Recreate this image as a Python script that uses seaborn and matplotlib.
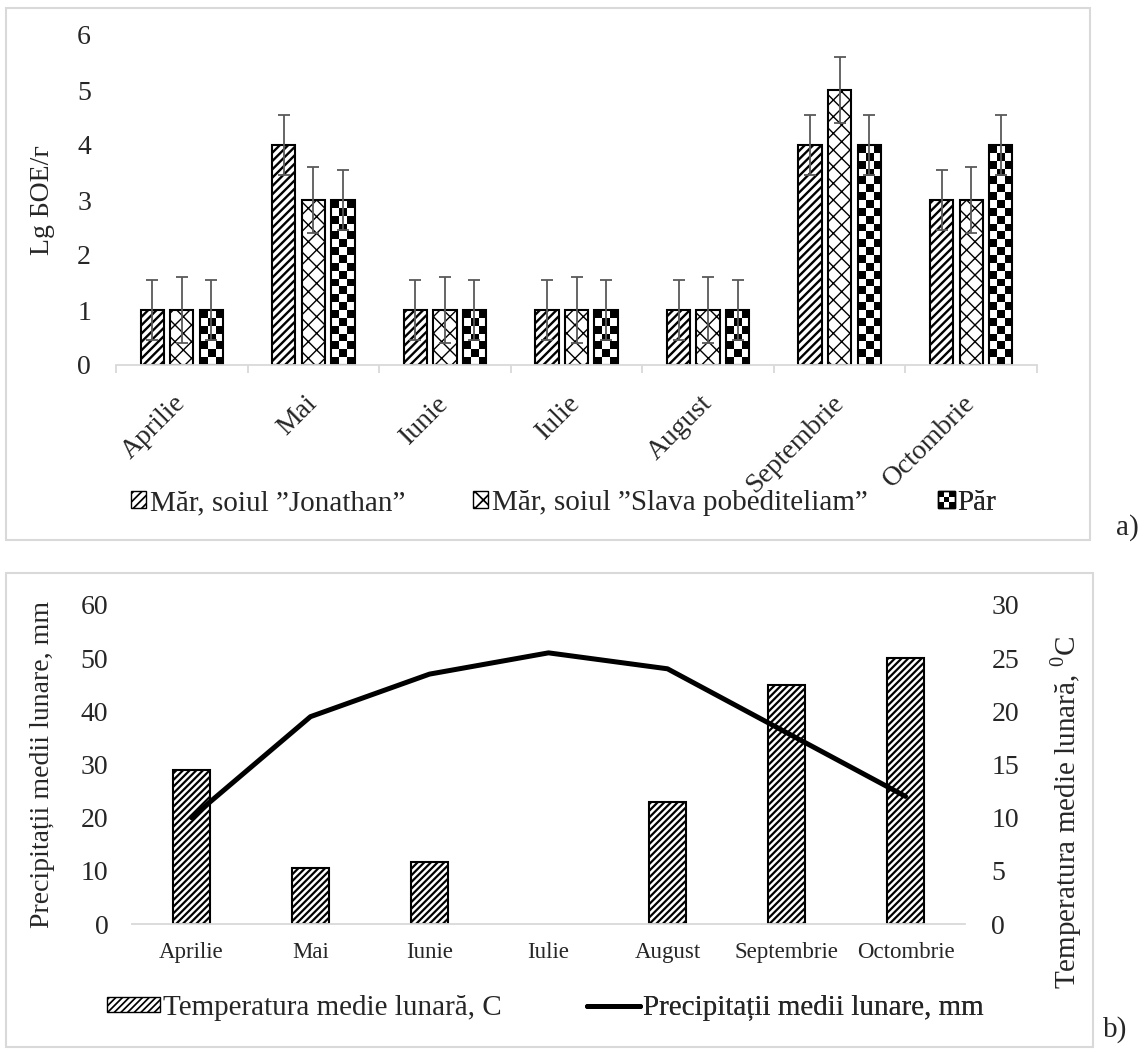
import numpy as np
import pandas as pd
import matplotlib
matplotlib.use("Agg")
import matplotlib.pyplot as plt
import seaborn as sns
from matplotlib.patches import Rectangle, Patch
from matplotlib.lines import Line2D
from matplotlib.legend_handler import HandlerBase

# ---------------- data ----------------
months = ["Aprilie", "Mai", "Iunie", "Iulie", "August", "Septembrie", "Octombrie"]
series_names = ["Măr, soiul ”Jonathan”", "Măr, soiul ”Slava pobediteliam”", "Păr"]

jonathan = [1, 4, 1, 1, 1, 4, 3]
slava = [1, 3, 1, 1, 1, 5, 3]
par = [1, 3, 1, 1, 1, 4, 4]
err_jonathan = [0.55, 0.55, 0.55, 0.55, 0.55, 0.55, 0.55]
err_slava = [0.6, 0.6, 0.6, 0.6, 0.6, 0.6, 0.6]
err_par = [0.55, 0.55, 0.55, 0.55, 0.55, 0.55, 0.55]

temperature = [14.5, 5.3, 5.8, 0.0, 11.5, 22.5, 25.0]
precipitation = [20, 39, 47, 51, 48, 36, 24]

top_ylabel = "Lg БОЕ/г"
left_ylabel = "Precipitații medii lunare, mm"
right_ylabel = "Temperatura medie lunară, $^{\\mathregular{0}}$C"
legend_bar = "Temperatura medie lunară, C"
legend_line = "Precipitații medii lunare, mm"

# ---------------- style ----------------
sns.set_theme(style="white")
plt.rcParams["font.family"] = ["Liberation Serif", "DejaVu Serif"]
plt.rcParams["mathtext.fontset"] = "custom"
plt.rcParams["mathtext.rm"] = "Liberation Serif"
plt.rcParams["hatch.linewidth"] = 1.25
plt.rcParams["hatch.color"] = "black"

FS = 20      # tick labels / axis titles
LFS = 21     # legend text
GRAY = "#d9d9d9"


def set_hatch_lw(patch, lw):
    if hasattr(patch, "set_hatch_linewidth"):
        patch.set_hatch_linewidth(lw)


fig = plt.figure(figsize=(11.41, 10.5), dpi=100)
W, H = 1141.0, 1050.0

# panel frames
fig.add_artist(Rectangle((6 / W, 1 - 540 / H), (1090 - 6) / W, (540 - 8) / H,
                         transform=fig.transFigure, fill=False, edgecolor=GRAY, lw=1.5))
fig.add_artist(Rectangle((6 / W, 1 - 1047 / H), (1093 - 6) / W, (1047 - 573) / H,
                         transform=fig.transFigure, fill=False, edgecolor=GRAY, lw=1.5))
fig.text(1116 / W, 1 - 528 / H, "a)", fontsize=LFS, va="center", ha="left")
fig.text(1103 / W, 1 - 1030 / H, "b)", fontsize=LFS, va="center", ha="left")

# ---------------- panel a ----------------
ax1 = fig.add_axes([116 / W, 1 - 365 / H, (1037 - 116) / W, (365 - 35) / H])
df_top = pd.DataFrame({
    "Luna": months * 3,
    "Valoare": jonathan + slava + par,
    "Soi": [series_names[0]] * 7 + [series_names[1]] * 7 + [series_names[2]] * 7,
})
sns.barplot(data=df_top, x="Luna", y="Valoare", hue="Soi", order=months,
            hue_order=series_names, palette=["white"] * 3, saturation=1,
            width=0.674, gap=0.21, edgecolor="black", linewidth=1.5,
            errorbar=None, legend=False, ax=ax1)
ax1.set_xlim(-0.5, 6.5)
ax1.set_ylim(0, 6)
ax1.set_yticks(range(0, 7))

hatches = ["////", "xx"]
hatch_lws = [1.7, 1.0]
for cont, h, hl in zip(ax1.containers[:2], hatches, hatch_lws):
    for b in cont:
        b.set_hatch(h)
        set_hatch_lw(b, hl)

# checkerboard pattern for third series
for b in ax1.containers[2]:
    x0, y0, w, h = b.get_x(), b.get_y(), b.get_width(), b.get_height()
    p0 = ax1.transData.transform((x0, y0))
    p1 = ax1.transData.transform((x0 + w, y0 + h))
    nx = 3
    cell = (p1[0] - p0[0]) / nx
    ny = max(1, int(round((p1[1] - p0[1]) / cell)))
    grid = ((np.add.outer(np.arange(ny), np.arange(nx)) % 2) == 0).astype(float)
    im = ax1.imshow(grid, cmap="gray_r", vmin=0, vmax=1, extent=(x0, x0 + w, y0, y0 + h),
                    origin="upper", interpolation="nearest", aspect="auto", zorder=1.5)
    im.set_clip_path(b)
    b.set_facecolor("none")
    b.set_zorder(2)
ax1.set_xlim(-0.5, 6.5)
ax1.set_ylim(0, 6)

for cont, errs in zip(ax1.containers, [err_jonathan, err_slava, err_par]):
    xs = [b.get_x() + b.get_width() / 2 for b in cont]
    ys = [b.get_y() + b.get_height() for b in cont]
    ax1.errorbar(xs, ys, yerr=errs, fmt="none", ecolor="#595959", elinewidth=1.3,
                 capsize=4.3, capthick=1.3, zorder=6)

for s in ["top", "right", "left"]:
    ax1.spines[s].set_visible(False)
ax1.spines["bottom"].set_color(GRAY)
ax1.spines["bottom"].set_linewidth(1.3)
ax1.set_xticks(range(7))
ax1.set_xticklabels(months, rotation=45, ha="right", va="center",
                    rotation_mode="anchor", fontsize=FS)
ax1.set_xticks(np.arange(-0.5, 7, 1), minor=True)
ax1.tick_params(axis="x", which="major", length=0, pad=25)
ax1.tick_params(axis="x", which="minor", length=6, width=1.3, color=GRAY, bottom=True)
ax1.tick_params(axis="y", length=0, pad=18, labelsize=FS)
ax1.set_xlabel("")
ax1.set_ylabel(top_ylabel, fontsize=FS)
ax1.yaxis.set_label_coords(-0.066, 0.5)


class HandlerChecker(HandlerBase):
    def create_artists(self, legend, orig_handle, xdescent, ydescent, width, height,
                       fontsize, trans):
        s = height
        x0 = -xdescent + (width - s) / 2
        y0 = -ydescent
        n = 3
        c = s / n
        arts = []
        for i in range(n):
            for j in range(n):
                if (i + j) % 2 == 0:
                    arts.append(Rectangle((x0 + j * c, y0 + i * c), c, c, facecolor="black",
                                          edgecolor="none", transform=trans))
        arts.append(Rectangle((x0, y0), s, s, facecolor="none", edgecolor="black",
                              lw=1.0, transform=trans))
        return arts


top_handles = [Patch(facecolor="white", edgecolor="black", hatch="////", lw=1.0),
               Patch(facecolor="white", edgecolor="black", hatch="xx", lw=1.0),
               Patch(facecolor="white", edgecolor="black")]
set_hatch_lw(top_handles[0], 1.7)
set_hatch_lw(top_handles[1], 1.0)
top_handle_x = [131, 473, 939]
for i, (hd, name, hx) in enumerate(zip(top_handles, series_names, top_handle_x)):
    hm = {hd: HandlerChecker()} if i == 2 else None
    leg = ax1.legend([hd], [name], handler_map=hm, loc="center left",
                     bbox_to_anchor=(hx / W, 1 - 503 / H), bbox_transform=fig.transFigure,
                     frameon=False, fontsize=LFS, handlelength=0.52, handleheight=0.52,
                     handletextpad=0.12, borderpad=0, borderaxespad=0)
    ax1.add_artist(leg)

# ---------------- panel b ----------------
ax2 = fig.add_axes([132 / W, 1 - 924 / H, (965 - 132) / W, (924 - 605) / H])
ax3 = ax2.twinx()
df_b = pd.DataFrame({"Luna": months, "Temperatura": temperature, "Precipitatii": precipitation})
sns.barplot(data=df_b, x="Luna", y="Temperatura", order=months, color="white", saturation=1,
            width=0.307, edgecolor="black", linewidth=1.5, hatch="/////", errorbar=None, ax=ax3)
for b in ax3.containers[0]:
    set_hatch_lw(b, 1.6)
    if b.get_height() == 0:
        b.set_visible(False)
sns.lineplot(data=df_b, x="Luna", y="Precipitatii", color="black", linewidth=3.6,
             sort=False, ax=ax2)

ax2.set_zorder(ax3.get_zorder() + 1)
ax2.patch.set_visible(False)
ax2.set_xlim(-0.5, 6.5)
ax2.set_ylim(0, 60)
ax2.set_yticks(range(0, 61, 10))
ax3.set_ylim(0, 30)
ax3.set_yticks(range(0, 31, 5))
ax2.set_xticks(range(7))
ax2.set_xticklabels(months, fontsize=16.5)
ax2.tick_params(axis="x", length=0, pad=13)
ax2.tick_params(axis="y", length=0, pad=17, labelsize=FS)
ax3.tick_params(axis="y", length=0, pad=19, labelsize=FS)
for s in ["top", "right", "left"]:
    ax2.spines[s].set_visible(False)
for s in ["top", "right", "left", "bottom"]:
    ax3.spines[s].set_visible(False)
ax2.spines["bottom"].set_color(GRAY)
ax2.spines["bottom"].set_linewidth(1.3)
ax2.set_xlabel("")
ax3.set_xlabel("")
ax2.set_ylabel(left_ylabel, fontsize=FS)
ax2.yaxis.set_label_coords(-0.092, 0.5)
ax3.set_ylabel(right_ylabel, fontsize=LFS)
ax3.yaxis.set_label_coords(1.10, 0.35)

bot_handles = [Patch(facecolor="white", edgecolor="black", hatch="/////", lw=1.0),
               Line2D([], [], color="black", lw=3.6)]
set_hatch_lw(bot_handles[0], 1.6)
bot_labels = [legend_bar, legend_line]
bot_handle_x = [107, 587]
for hd, name, hx in zip(bot_handles, bot_labels, bot_handle_x):
    leg = ax2.legend([hd], [name], loc="center left",
                     bbox_to_anchor=(hx / W, 1 - 1008 / H), bbox_transform=fig.transFigure,
                     frameon=False, fontsize=LFS, handlelength=1.83, handleheight=0.38,
                     handletextpad=0.1, borderpad=0, borderaxespad=0)
    ax2.add_artist(leg)

fig.savefig("out.png", dpi=100)
